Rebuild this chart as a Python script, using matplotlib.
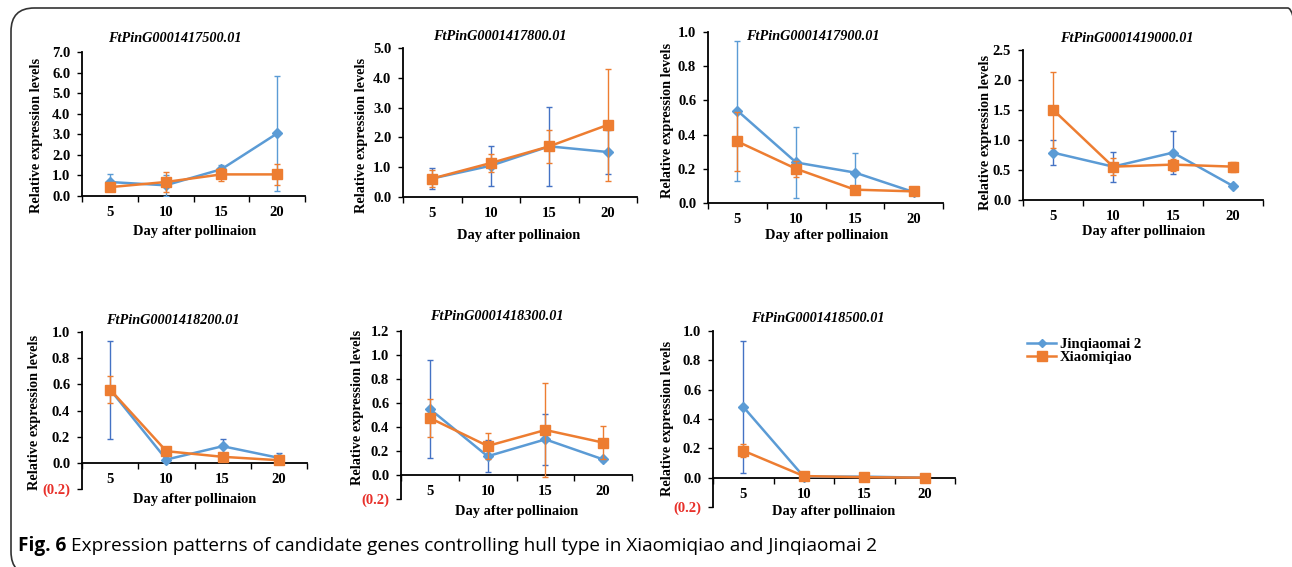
import matplotlib
matplotlib.use("Agg")
import matplotlib.pyplot as plt
import numpy as np
from matplotlib.patches import FancyBboxPatch
from matplotlib.lines import Line2D

# ---------------- data ----------------
days = ['5', '10', '15', '20']
genes = ['FtPinG0001417500.01', 'FtPinG0001417800.01', 'FtPinG0001417900.01',
         'FtPinG0001419000.01', 'FtPinG0001418200.01', 'FtPinG0001418300.01',
         'FtPinG0001418500.01']
series_names = ['Jinqiaomai 2', 'Xiaomiqiao']

jin_mean = [[0.68, 0.52, 1.30, 3.04],
            [0.62, 1.05, 1.70, 1.51],
            [0.54, 0.237, 0.178, 0.064],
            [0.79, 0.556, 0.79, 0.233],
            [0.56, 0.025, 0.127, 0.038],
            [0.55, 0.156, 0.297, 0.13],
            [0.483, 0.007, 0.007, 0.0]]
jin_err = [[0.37, 0.50, 0.22, 2.78],
           [0.35, 0.67, 1.32, 0.73],
           [0.41, 0.21, 0.117, 0.01],
           [0.21, 0.25, 0.36, 0.02],
           [0.375, 0.01, 0.056, 0.038],
           [0.41, 0.134, 0.21, 0.01],
           [0.45, 0.003, 0.005, 0.0]]
xiao_mean = [[0.43, 0.68, 1.05, 1.05],
             [0.62, 1.14, 1.70, 2.42],
             [0.36, 0.20, 0.078, 0.068],
             [1.505, 0.556, 0.59, 0.556],
             [0.56, 0.089, 0.046, 0.02],
             [0.475, 0.242, 0.375, 0.27],
             [0.184, 0.011, 0.003, 0.0]]
xiao_err = [[0.08, 0.50, 0.30, 0.50],
            [0.30, 0.29, 0.55, 1.88],
            [0.175, 0.047, 0.012, 0.015],
            [0.63, 0.14, 0.10, 0.085],
            [0.10, 0.01, 0.01, 0.01],
            [0.157, 0.108, 0.39, 0.136],
            [0.044, 0.005, 0.003, 0.002]]

y_min = [0, 0, 0, 0, -0.2, -0.2, -0.2]
y_max = [7.0, 5.0, 1.0, 2.5, 1.0, 1.2, 1.0]
y_step = [1.0, 1.0, 0.2, 0.5, 0.2, 0.2, 0.2]

caption_bold = 'Fig. 6'
caption_text = 'Expression patterns of candidate genes controlling hull type in Xiaomiqiao and Jinqiaomai 2'

# ---------------- layout (pixels) ----------------
W, H = 1292, 567
# left, right, top, bottom of plot areas
boxes = [(82, 305, 52, 196), (403, 637, 48, 197), (708, 943, 32, 203),
         (1023, 1263, 50, 200), (82, 307, 332, 489), (401, 632, 331, 499),
         (713, 955, 331, 507)]
title_pos = [(175, 38), (500, 36), (813, 37), (1127, 38), (173, 320), (497, 316), (818, 318)]
xlabel_pos = [(195, 232), (519, 236), (827, 235), (1144, 232), (195, 500), (517, 512), (834, 512)]
ylabel_pos = [(37, 135), (362, 135), (668, 120), (985, 132), (35, 412), (358, 407), (668, 418)]
blue_err_col = ['#5B9BD5', '#4472C4', '#5B9BD5', '#4472C4', '#4472C4', '#4472C4', '#4472C4']

BLUE = '#5B9BD5'
ORANGE = '#ED7D31'
SERIF = 'Liberation Serif'
TICK_FS = 10.5

fig = plt.figure(figsize=(W / 100, H / 100), dpi=100)

# rounded frame
frame = FancyBboxPatch((11 / W, 1 - 575 / H), 1300 / W, (575 - 8) / H,
                       boxstyle='round,pad=0,rounding_size=0.018',
                       transform=fig.transFigure, fill=False,
                       edgecolor='#333333', linewidth=1.2, mutation_aspect=W / H)
fig.patches.append(frame)

x = np.arange(len(days))
for i in range(7):
    l, r, t, b = boxes[i]
    ax = fig.add_axes([l / W, 1 - b / H, (r - l) / W, (b - t) / H])
    ax.set_facecolor('none')
    for s in ['top', 'right']:
        ax.spines[s].set_visible(False)
    ax.spines['left'].set_linewidth(1.3)
    ax.spines['bottom'].set_linewidth(1.3)
    if y_min[i] < 0:
        ax.spines['bottom'].set_position(('data', 0))
    ax.errorbar(x, jin_mean[i], yerr=jin_err[i], color=BLUE, ecolor=blue_err_col[i],
                elinewidth=1.0, capsize=2.5, capthick=1.0, lw=1.8, marker='D',
                markersize=4.8, zorder=3, label=series_names[0])
    ax.errorbar(x, xiao_mean[i], yerr=xiao_err[i], color=ORANGE, ecolor=ORANGE,
                elinewidth=1.0, capsize=2.5, capthick=1.0, lw=1.8, marker='s',
                markersize=6.8, zorder=4, label=series_names[1])
    ax.set_xlim(-0.5, len(days) - 0.5)
    ax.set_ylim(y_min[i], y_max[i])
    yt = np.round(np.arange(y_min[i], y_max[i] + 1e-9, y_step[i]), 3)
    ax.set_yticks(yt)
    labels = []
    for v in yt:
        if v < 0:
            labels.append('(%.1f)' % abs(v))
        else:
            labels.append('%.1f' % v)
    ax.set_yticklabels(labels, fontfamily=SERIF, fontweight='bold', fontsize=TICK_FS)
    for lab, v in zip(ax.get_yticklabels(), yt):
        if v < 0:
            lab.set_color('#E8302A')
    ax.set_xticks(x)
    ax.set_xticklabels(days, fontfamily=SERIF, fontweight='bold', fontsize=TICK_FS)
    ax.set_xticks(np.arange(-0.5, len(days)), minor=True)
    ax.tick_params(axis='x', which='major', length=0, pad=7.5)
    ax.tick_params(axis='x', which='minor', length=4, width=1.0, direction='out')
    ax.tick_params(axis='y', which='major', length=3.5, width=1.0, direction='out', pad=5)
    # titles and labels
    tx, ty = title_pos[i]
    fig.text(tx / W, 1 - ty / H, genes[i], ha='center', va='center', fontfamily=SERIF,
             fontweight='bold', fontstyle='italic', fontsize=10.3)
    lx, ly = xlabel_pos[i]
    fig.text(lx / W, 1 - ly / H, 'Day after pollinaion', ha='center', va='center',
             fontfamily=SERIF, fontweight='bold', fontsize=10.4)
    yx, yy = ylabel_pos[i]
    fig.text(yx / W, 1 - yy / H, 'Relative expression levels', ha='center', va='center',
             rotation=90, fontfamily=SERIF, fontweight='bold', fontsize=10.3)

handles = [Line2D([], [], color=BLUE, lw=1.8, marker='D', markersize=4.5),
           Line2D([], [], color=ORANGE, lw=1.8, marker='s', markersize=6.5)]
fig.legend(handles, series_names, loc='upper left', bbox_to_anchor=(1027 / W, 1 - 338 / H),
           frameon=False, handlelength=2.0, handletextpad=0.25, labelspacing=0.0,
           borderaxespad=0, borderpad=0,
           prop={'family': SERIF, 'weight': 'bold', 'size': 10.5})

# caption
r = fig.canvas.get_renderer()
t1 = fig.text(18 / W, 1 - 546 / H, caption_bold, ha='left', va='center',
              fontfamily='Open Sans', fontweight='bold', fontsize=13.7)
bb = t1.get_window_extent(renderer=r)
fig.text((bb.x1 + 5) / W, 1 - 546 / H, caption_text, ha='left', va='center',
         fontfamily='Open Sans', fontsize=13.7)

fig.savefig('out.png', dpi=100)
